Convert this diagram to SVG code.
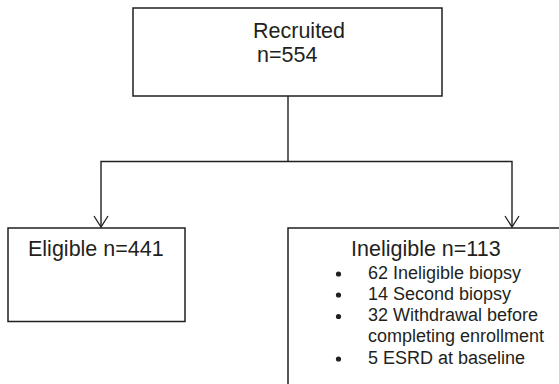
<svg xmlns="http://www.w3.org/2000/svg" width="559" height="384" viewBox="0 0 559 384">
<style>
.box{fill:#fff;stroke:#231f20;stroke-width:1.5}
.ln{fill:none;stroke:#231f20;stroke-width:1.4}
.t{font-family:"Liberation Sans",Arial,sans-serif;fill:#231f20}
.big{font-size:21.5px}
.sm{font-size:18px}
</style>
<defs>
<marker id="arr" markerWidth="14" markerHeight="16" refX="12" refY="8" orient="auto" markerUnits="userSpaceOnUse" viewBox="0 0 14 16">
<path d="M1,1 L12,8 L1,15" fill="none" stroke="#231f20" stroke-width="1.3"/>
</marker>
</defs>
<rect width="559" height="384" fill="#fff"/>
<g id="connectors">
<path class="ln" d="M288,96 V161.5"/>
<path class="ln" d="M288,161.5 H101 V227" marker-end="url(#arr)"/>
<path class="ln" d="M288,161.5 H512 V227" marker-end="url(#arr)"/>
</g>
<g id="recruited">
<rect class="box" x="133" y="8" width="309" height="88"/>
<text class="t big" x="253" y="38">Recruited</text>
<text class="t big" x="257" y="62">n=554</text>
</g>
<g id="eligible">
<rect class="box" x="8" y="228" width="177" height="93.5"/>
<text class="t big" x="28" y="256">Eligible n=441</text>
</g>
<g id="ineligible">
<rect class="box" x="288" y="228" width="290" height="170"/>
<text class="t big" x="351" y="256">Ineligible n=113</text>
<g fill="#231f20">
<circle cx="338.5" cy="274" r="2.6"/>
<circle cx="338.5" cy="295" r="2.6"/>
<circle cx="338.5" cy="316.5" r="2.6"/>
<circle cx="338.5" cy="359" r="2.6"/>
</g>
<text class="t sm" x="368" y="279">62 Ineligible biopsy</text>
<text class="t sm" x="368" y="300">14 Second biopsy</text>
<text class="t sm" x="368" y="321">32 Withdrawal before</text>
<text class="t sm" x="368" y="342">completing enrollment</text>
<text class="t sm" x="368" y="363.5">5 ESRD at baseline</text>
</g>
</svg>
